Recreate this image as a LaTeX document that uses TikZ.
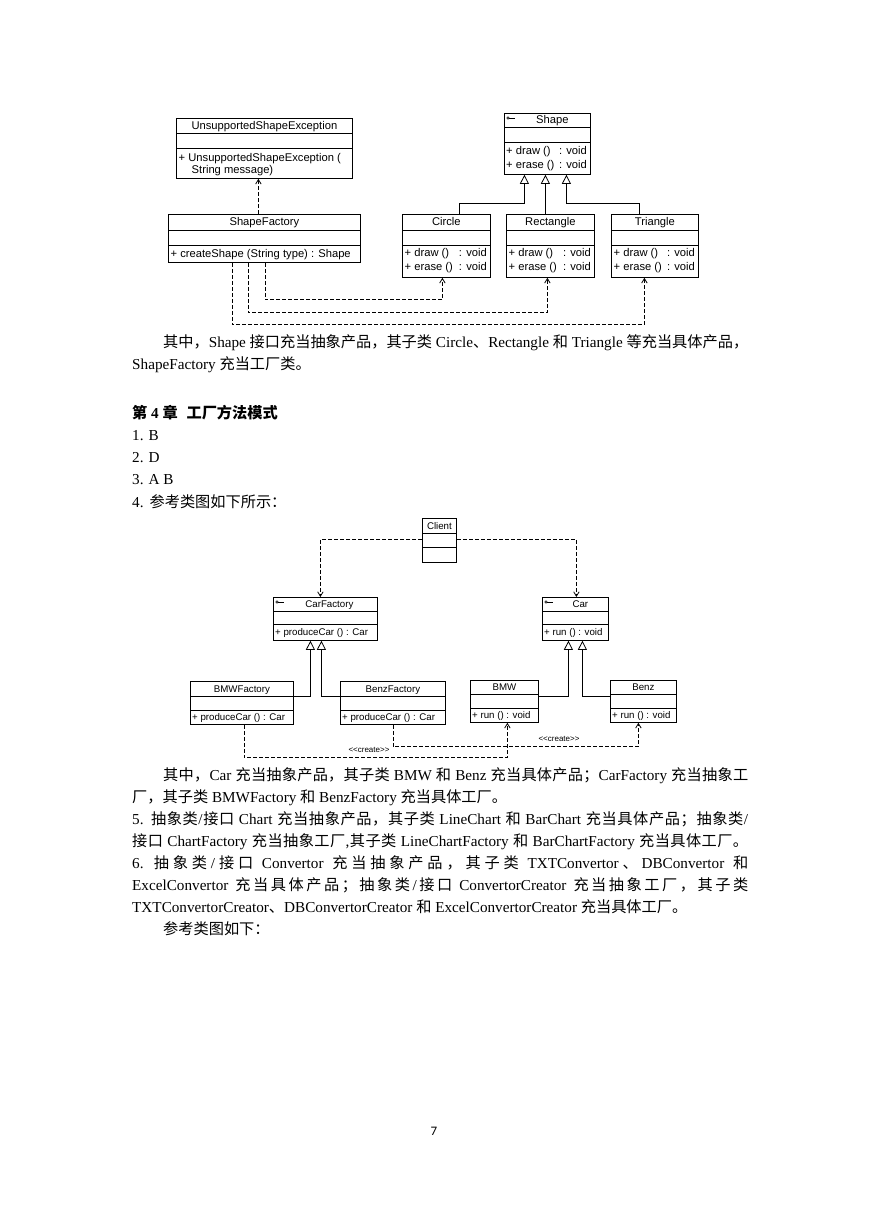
\documentclass[tikz,border=0pt]{standalone}
\usepackage{fontspec}
\setmainfont{Liberation Serif}
\setsansfont{Liberation Sans}
\newfontfamily\cjk{Noto Sans CJK SC}
\newfontfamily\lat{Liberation Serif}
\newfontfamily\pgfont{Carlito}
\usetikzlibrary{arrows.meta}
\makeatletter
\count@="4E00
\loop\ifnum\count@<"A000 \XeTeXcharclass\count@=10 \advance\count@\@ne\repeat
\count@="3000
\loop\ifnum\count@<"3040 \XeTeXcharclass\count@=10 \advance\count@\@ne\repeat
\count@="FF00
\loop\ifnum\count@<"FFF0 \XeTeXcharclass\count@=10 \advance\count@\@ne\repeat
\makeatother
\XeTeXinterchartoks 0 10 = {\hskip0pt plus 1.5pt\relax\cjk}
\XeTeXinterchartoks 4095 10 = {\cjk}
\XeTeXinterchartoks 10 0 = {\hskip0pt plus 1.5pt\relax\lat}
\XeTeXinterchartoks 10 4095 = {\lat}
\XeTeXinterchartoks 10 10 = {\hskip0pt plus 1.5pt\relax}
\XeTeXinterchartokenstate=1

\tikzset{
  body/.style={font=\fontsize{15.2}{22}\selectfont, inner sep=0pt, anchor=base west},
  cls/.style={draw, line width=0.8pt, inner sep=0pt, fill=white},
  thinl/.style={line width=0.8pt},
  dep/.style={draw, line width=0.8pt, dash pattern=on 4pt off 2pt, -{Straight Barb[length=4.5pt,width=5.5pt]}},
  gen/.style={draw, line width=0.8pt, -{Triangle[open,length=9pt,width=9pt,fill=white]}},
  op/.style={inner sep=0pt, anchor=mid west, yshift=-1.2pt},
  ope/.style={inner sep=0pt, anchor=mid east, yshift=-1.2pt},
  icon/.style={line width=0.6pt},
  crt/.style={inner sep=0pt, font=\sffamily\fontsize{8}{9}\selectfont},
}
\newcommand\umlbox[9]{%
  \node[cls, minimum width=#4pt, minimum height=#5pt, anchor=north west] (#1) at (#2,#3) {};
  \draw[thinl] ([yshift=-#6pt]#1.north west) -- ([yshift=-#6pt]#1.north east);
  \draw[thinl] ([yshift=-#7pt]#1.north west) -- ([yshift=-#7pt]#1.north east);
  \node[inner sep=0pt, anchor=mid] (#1-t) at ([xshift=#9pt,yshift=-#6pt/2-1.3pt]#1.north) {#8};
}
\newcommand\ifaceicon[1]{%
  \draw[icon] ([xshift=4pt,yshift=-5pt]#1.north west) circle[radius=1.3pt];
  \draw[icon] ([xshift=5.3pt,yshift=-5pt]#1.north west) -- ([xshift=10.5pt,yshift=-5pt]#1.north west);
}

\begin{document}
\begin{tikzpicture}[x=1pt,y=-1pt]
\fill[white] (0,0) rectangle (869,1228);
\useasboundingbox (0,0) rectangle (869,1228);

% ---------------- top diagram ----------------
\begin{scope}[font=\sffamily\fontsize{11.2}{13}\selectfont]
\umlbox{use}{176}{118}{176}{60}{15}{30}{UnsupportedShapeException}{0}
\node[op] (use-o1) at (178.5,158) {+ UnsupportedShapeException (};
\node[op] (use-o2) at (191.5,170) {String message)};

\umlbox{shape}{504}{113}{86}{61}{14}{29}{Shape}{5}
\ifaceicon{shape}
\node[op] (shape-o1) at (506,151) {+ draw ()};
\node[ope] (shape-o1r) at (587,151) {: void};
\node[op] (shape-o2) at (506,165) {+ erase ()};
\node[ope] (shape-o2r) at (587,165) {: void};

\umlbox{sf}{168}{214}{192}{48}{16}{31}{ShapeFactory}{0}
\node[op] (sf-o1) at (170.5,254) {+ createShape (String type) : Shape};

\umlbox{circ}{402}{214}{88}{63}{16}{31}{Circle}{0}
\node[op] (circ-o1) at (404.5,253) {+ draw ()};
\node[ope] (circ-o1r) at (487,253) {: void};
\node[op] (circ-o2) at (404.5,267) {+ erase ()};
\node[ope] (circ-o2r) at (487,267) {: void};

\umlbox{rect}{506}{214}{88}{63}{16}{31}{Rectangle}{0}
\node[op] (rect-o1) at (508.5,253) {+ draw ()};
\node[ope] (rect-o1r) at (591,253) {: void};
\node[op] (rect-o2) at (508.5,267) {+ erase ()};
\node[ope] (rect-o2r) at (591,267) {: void};

\umlbox{tri}{611}{214}{87}{63}{16}{31}{Triangle}{0}
\node[op] (tri-o1) at (613.5,253) {+ draw ()};
\node[ope] (tri-o1r) at (695,253) {: void};
\node[op] (tri-o2) at (613.5,267) {+ erase ()};
\node[ope] (tri-o2r) at (695,267) {: void};
\end{scope}

\draw[dep] ([xshift=-6pt]sf.north) -- ([xshift=-6pt]use.south);
\draw[dep] ([xshift=1pt]sf.south) -- ([xshift=1pt,yshift=-37pt]sf.south) -| ([xshift=-4pt]circ.south);
\draw[dep] ([xshift=-16pt]sf.south) -- ([xshift=-16pt,yshift=-50pt]sf.south) -| ([xshift=-3pt]rect.south);
\draw[dep] ([xshift=-32pt]sf.south) -- ([xshift=-32pt,yshift=-62pt]sf.south) -| ([xshift=-10.5pt]tri.south);

\draw[gen] ([xshift=13pt]circ.north) |- ([xshift=-23pt,yshift=-29pt]shape.south) -- ([xshift=-23pt]shape.south);
\draw[gen] ([xshift=-5pt]rect.north) -- ([xshift=-2pt]shape.south);
\draw[gen] ([xshift=-15.5pt]tri.north) |- ([xshift=19pt,yshift=-29pt]shape.south) -- ([xshift=19pt]shape.south);

% ---------------- text ----------------
\node[body] (p1) at (163,347.5) {\hbox to 585pt{其中，Shape 接口充当抽象产品，其子类 Circle、Rectangle 和 Triangle 等充当具体产品，}};
\node[body] (p2) at (132,369.5) {ShapeFactory 充当工厂类。};
\node[body, font=\fontsize{15.2}{22}\selectfont\bfseries] (h4) at (132,418.5) {第 4 章\hspace{5pt} 工厂方法模式};
\node[body] (a1) at (132,440.5) {1. B};
\node[body] (a2) at (132,462.5) {2. D};
\node[body] (a3) at (132,484.5) {3. A B};
\node[body] (a4) at (132,507.5) {4.\hspace{6pt}参考类图如下所示：};

% ---------------- bottom diagram ----------------
\begin{scope}[font=\sffamily\fontsize{9.7}{11}\selectfont]
\umlbox{client}{422}{518}{34}{44}{15}{29}{Client}{0}

\umlbox{cf}{273}{597}{104}{43}{14}{27}{CarFactory}{4}
\ifaceicon{cf}
\node[op] (cf-o1) at (275,632) {+ produceCar () : Car};

\umlbox{car}{542}{597}{66}{43}{14}{27}{Car}{5}
\ifaceicon{car}
\node[op] (car-o1) at (544,632) {+ run () : void};

\umlbox{bmwf}{190}{681}{103}{43}{15}{29}{BMWFactory}{0}
\node[op] (bmwf-o1) at (192,717) {+ produceCar () : Car};

\umlbox{benzf}{340}{681}{105}{43}{15}{29}{BenzFactory}{0}
\node[op] (benzf-o1) at (342,717) {+ produceCar () : Car};

\umlbox{bmw}{470}{680}{68}{42}{14}{28}{BMW}{0}
\node[op] (bmw-o1) at (472,715) {+ run () : void};

\umlbox{benz}{610}{680}{66}{42}{14}{28}{Benz}{0}
\node[op] (benz-o1) at (612,715) {+ run () : void};
\end{scope}

\node[crt] (cr1) at (369,750) {<\kern0pt<create>\kern0pt>};
\node[crt] (cr2) at (559,739) {<\kern0pt<create>\kern0pt>};

\draw[dep] ([yshift=1pt]client.west) -| ([xshift=-5pt]cf.north);
\draw[dep] ([yshift=1pt]client.east) -| ([xshift=1pt]car.north);

\draw[gen] ([yshift=-15pt]bmwf.north east) -| ([xshift=-15pt]cf.south);
\draw[gen] ([yshift=-15pt]benzf.north west) -| ([xshift=-4pt]cf.south);
\draw[gen] ([yshift=-16pt]bmw.north east) -| ([xshift=-7pt]car.south);
\draw[gen] ([yshift=-16pt]benz.north west) -| ([xshift=7pt]car.south);

\draw[dep] ([xshift=2.5pt]bmwf.south) -- ([xshift=2.5pt,yshift=-33pt]bmwf.south) -| ([xshift=3pt]bmw.south);
\draw[dep] ([xshift=0.5pt]benzf.south) -- ([xshift=0.5pt,yshift=-22pt]benzf.south) -| ([xshift=-5pt]benz.south);

% ---------------- text ----------------
\node[body] (q1) at (163,780.5) {\hbox to 585pt{其中，Car 充当抽象产品，其子类 BMW 和 Benz 充当具体产品；CarFactory 充当抽象工}};
\node[body] (q2) at (132,802.5) {厂，其子类 BMWFactory 和 BenzFactory 充当具体工厂。};
\node[body] (q3) at (132,824.5) {\hbox to 616pt{5. 抽象类/接口 Chart 充当抽象产品，其子类 LineChart 和 BarChart 充当具体产品；抽象类/}};
\node[body] (q4) at (132,846.5) {\hbox to 616pt{接口 ChartFactory 充当抽象工厂,其子类 LineChartFactory 和 BarChartFactory 充当具体工厂。}};
\node[body] (q5) at (132,868.5) {\hbox to 616pt{6.\hspace{0pt plus 4pt}抽象类/接口 Convertor 充当抽象产品，其子类 TXTConvertor、DBConvertor 和}};
\node[body] (q6) at (132,890.5) {\hbox to 616pt{ExcelConvertor 充当具体产品；抽象类/接口 ConvertorCreator 充当抽象工厂，其子类}};
\node[body] (q7) at (132,912.5) {TXTConvertorCreator、DBConvertorCreator 和 ExcelConvertorCreator 充当具体工厂。};
\node[body] (q8) at (163,934.5) {参考类图如下：};
\node[inner sep=0pt, font=\pgfont\fontsize{13}{15}\selectfont] (pg) at (434,1131) {7};
\end{tikzpicture}
\end{document}
